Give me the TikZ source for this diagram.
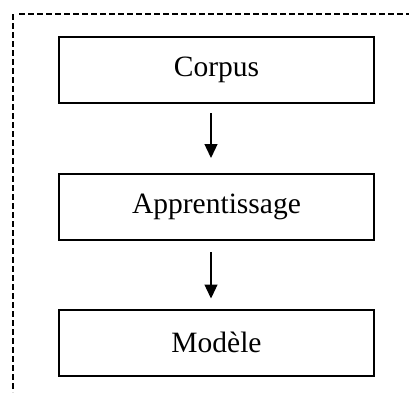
\documentclass[tikz,border=0pt]{standalone}
\usepackage{fontspec}
\setmainfont{Liberation Serif}
\usetikzlibrary{arrows.meta}

\tikzset{
  stage/.style={draw=black, line width=2pt, minimum width=315pt, minimum height=66pt,
                inner sep=0pt, font=\fontsize{29.5}{34}\selectfont},
  flow/.style={line width=1.3pt, -{Triangle[width=13pt,length=14pt]}},
  frame/.style={line width=1.3pt, dash pattern=on 5.5pt off 3.5pt}
}

\begin{document}
\begin{tikzpicture}[x=1pt, y=-1pt]
  \useasboundingbox (0,0) rectangle (409,392);

  % dashed frame (top and left edges)
  \coordinate (ftl) at (13,14);
  \coordinate (ftr) at (409,14);
  \coordinate (fbl) at (13,392);
  \draw[frame] ([xshift=6pt]ftl) -- (ftr);
  \draw[frame] (ftl) -- (fbl);

  % processing stages
  \node[stage] (corpus) at (216.5,70)  {Corpus};
  \node[stage] (app)    at (216.5,207) {Apprentissage};
  \node[stage] (modele) at (216.5,342.5) {Modèle};

  % connectors
  \draw[flow] ([xshift=-5.5pt,yshift=-9pt]corpus.south) -- ([xshift=-5.5pt,yshift=15pt]app.north);
  \draw[flow] ([xshift=-5.5pt,yshift=-11pt]app.south) -- ([xshift=-5.5pt,yshift=10pt]modele.north);
\end{tikzpicture}
\end{document}
